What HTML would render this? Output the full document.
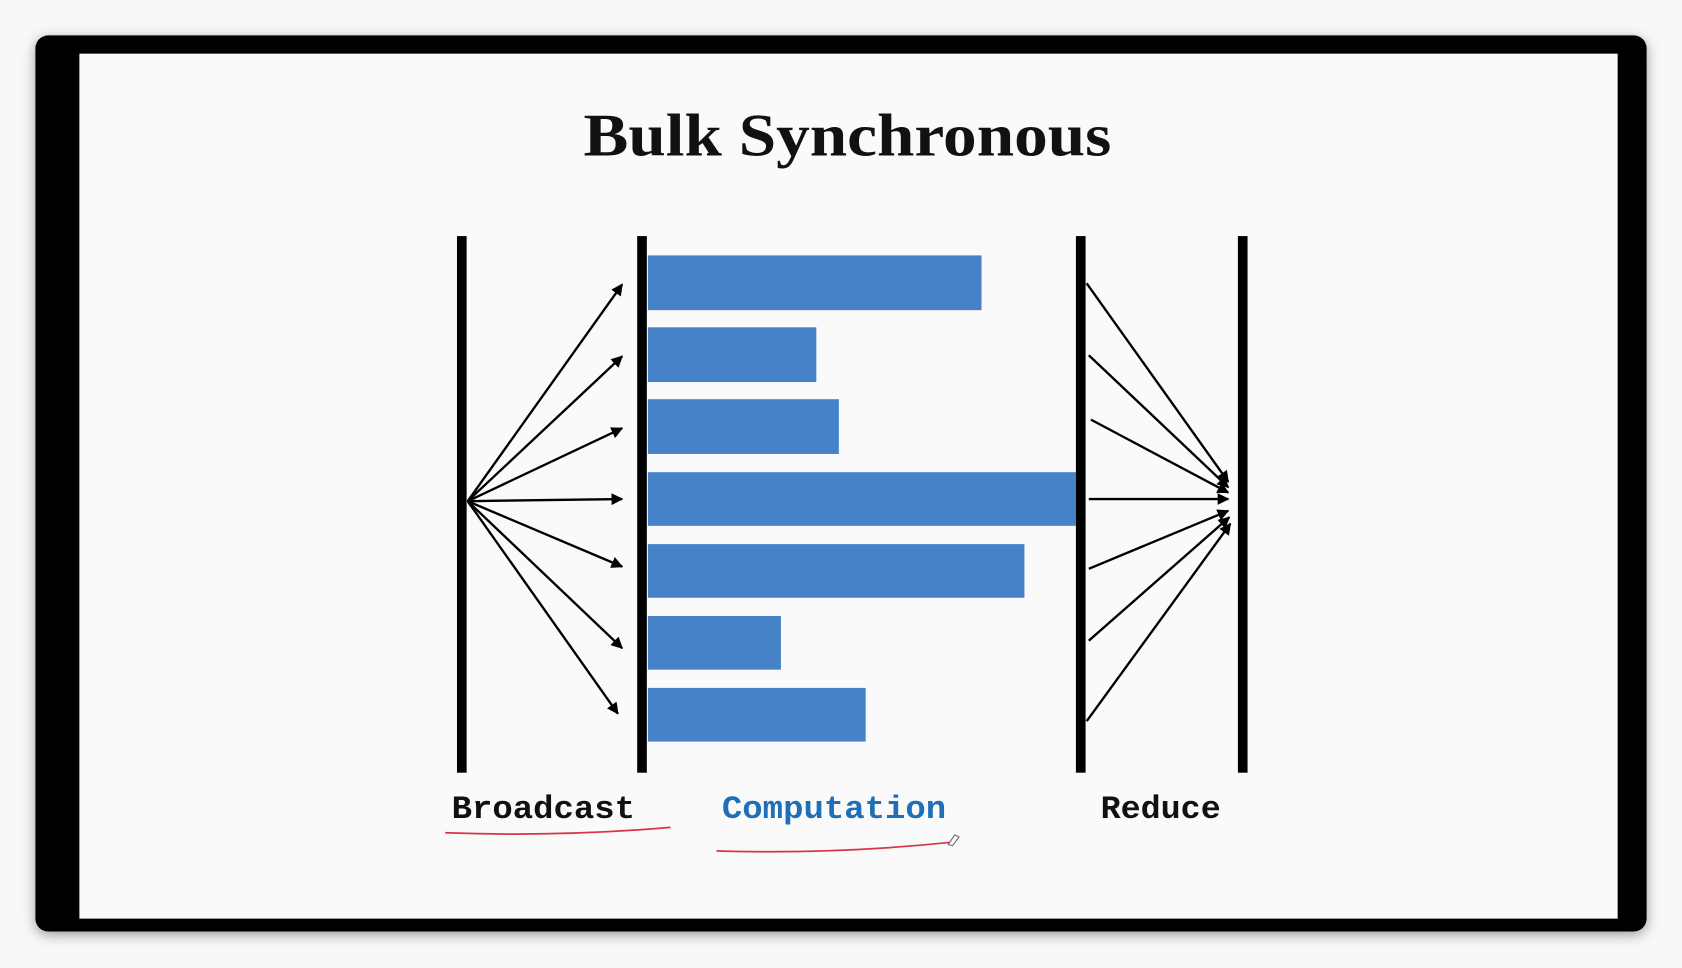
<!DOCTYPE html>
<html><head><meta charset="utf-8"><style>
html,body{margin:0;padding:0;background:#f7f7f7;width:1682px;height:968px;overflow:hidden}
svg{display:block}
</style></head><body>
<svg width="1682" height="968" viewBox="0 0 1568 902" preserveAspectRatio="none" xmlns="http://www.w3.org/2000/svg">
<defs>
<marker id="a" viewBox="0 0 10 10" refX="9" refY="5" markerWidth="5" markerHeight="5" orient="auto"><path d="M0,0 L10,5 L0,10 z" fill="#000"/></marker>
<filter id="sh" x="-5%" y="-5%" width="110%" height="110%"><feGaussianBlur stdDeviation="6"/></filter>
</defs>
<rect x="0" y="0" width="1568" height="902" fill="#f8f8f8"/>
<rect x="33" y="36" width="1502" height="835" rx="12" fill="#999" filter="url(#sh)"/>
<rect x="33" y="33" width="1502" height="835" rx="12" fill="#000"/>
<rect x="74" y="50" width="1434" height="806" fill="#fafafa"/>
<text x="790" y="145" text-anchor="middle" font-family="Liberation Serif, serif" font-weight="bold" font-size="56" textLength="492" lengthAdjust="spacingAndGlyphs" fill="#111">Bulk Synchronous</text>
<g fill="#4682c8">
<rect x="604" y="238" width="311" height="51"/>
<rect x="604" y="305" width="157" height="51"/>
<rect x="604" y="372" width="178" height="51"/>
<rect x="604" y="440" width="399" height="50"/>
<rect x="604" y="507" width="351" height="50"/>
<rect x="604" y="574" width="124" height="50"/>
<rect x="604" y="641" width="203" height="50"/>
</g>
<g fill="#000">
<rect x="426" y="220" width="9" height="500"/>
<rect x="594" y="220" width="9" height="500"/>
<rect x="1003" y="220" width="9" height="500"/>
<rect x="1154" y="220" width="9" height="500"/>
</g>
<g stroke="#000" stroke-width="2.2" fill="none" marker-end="url(#a)">
<line x1="436" y1="467" x2="580" y2="265"/>
<line x1="436" y1="467" x2="580" y2="332"/>
<line x1="436" y1="467" x2="580" y2="399"/>
<line x1="436" y1="467" x2="580" y2="465"/>
<line x1="436" y1="467" x2="580" y2="528"/>
<line x1="436" y1="467" x2="580" y2="604"/>
<line x1="436" y1="467" x2="576" y2="665"/>
<line x1="1013" y1="264" x2="1145" y2="449"/>
<line x1="1015" y1="331" x2="1145" y2="454"/>
<line x1="1017" y1="391" x2="1145" y2="459"/>
<line x1="1015" y1="465" x2="1145" y2="465"/>
<line x1="1015" y1="530" x2="1145" y2="476"/>
<line x1="1015" y1="597" x2="1146" y2="482"/>
<line x1="1013" y1="672" x2="1147" y2="488"/>
</g>
<g font-family="Liberation Mono, monospace" font-weight="bold" font-size="30">
<text x="421" y="762" textLength="171" lengthAdjust="spacingAndGlyphs" fill="#111">Broadcast</text>
<text x="673" y="762" textLength="209" lengthAdjust="spacingAndGlyphs" fill="#1e6fb8">Computation</text>
<text x="1026" y="762" textLength="112" lengthAdjust="spacingAndGlyphs" fill="#111">Reduce</text>
</g>
<g stroke="#d8354a" stroke-width="1.6" fill="none">
<path d="M415,776 Q520,780 625,771"/>
<path d="M668,793 Q780,796 885,785"/>
</g>
<path d="M884,787 l6,-9 l4,2 l-6,8 z" fill="none" stroke="#666" stroke-width="1"/>
</svg>
</body></html>
